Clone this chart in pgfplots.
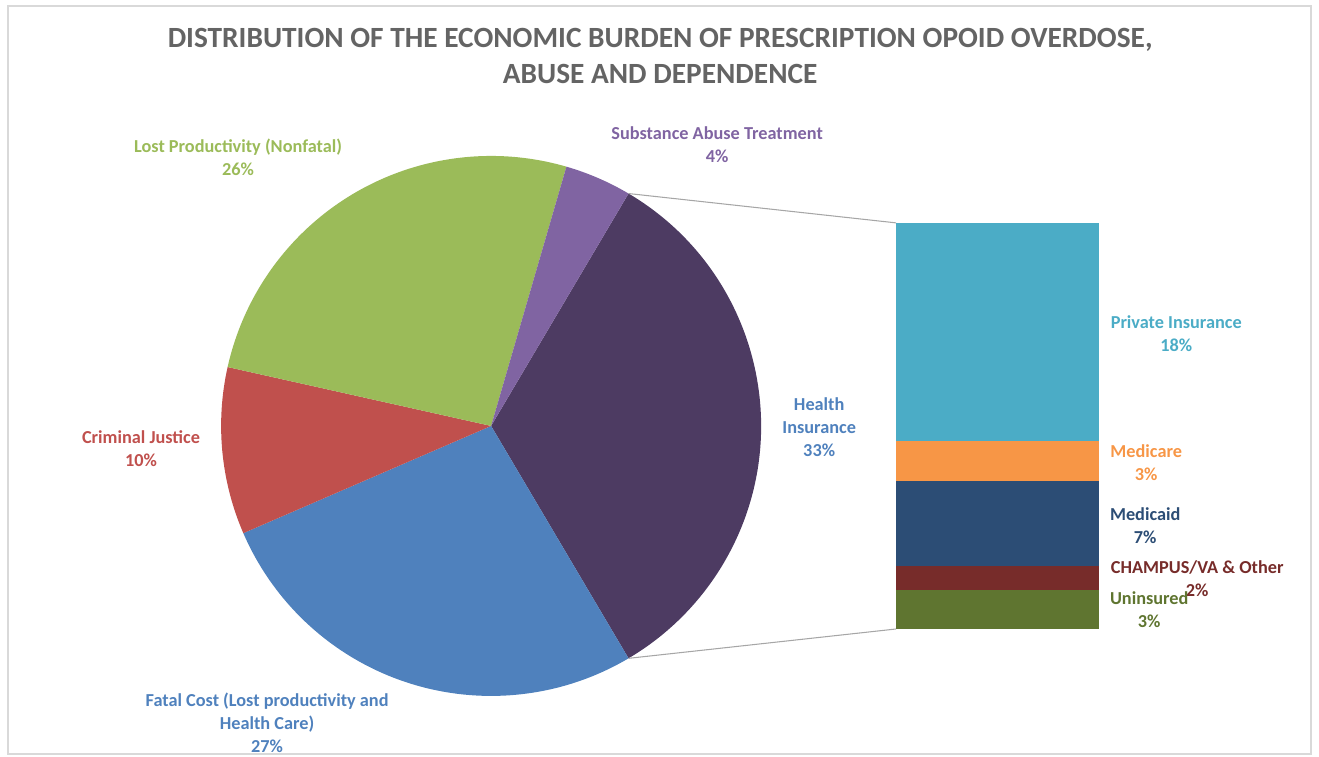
\documentclass[border=0pt]{standalone}
\usepackage{pgfplots}
\usepackage{pgfplotstable}
\usepackage{fontspec}
\setmainfont{Carlito}
\pgfplotsset{compat=1.18}

% pie shares, clockwise starting from the split slice (Health Insurance)
\pgfplotstableread{
value
33
27
10
26
4
}\piedata

% breakdown of Health Insurance (stacked bottom to top)
\pgfplotstableread{
x uninsured champus medicaid medicare private
0 3.2 1.9 6.9 3.3 17.7
}\bardata

\definecolor{slice0}{HTML}{4D3B62}
\definecolor{slice1}{HTML}{4F81BD}
\definecolor{slice2}{HTML}{C0504D}
\definecolor{slice3}{HTML}{9BBB59}
\definecolor{slice4}{HTML}{8064A2}
\definecolor{private}{HTML}{4BACC6}
\definecolor{medicare}{HTML}{F79646}
\definecolor{medicaid}{HTML}{2C4D75}
\definecolor{champus}{HTML}{772C2A}
\definecolor{uninsured}{HTML}{5F7530}
\definecolor{titlegray}{RGB}{100,100,100}
\definecolor{framegray}{HTML}{D9D9D9}

\newcommand{\lbl}{\fontsize{10.4}{13.1}\selectfont\bfseries}

\begin{document}
\begin{tikzpicture}
% slice angles from the table
\pgfplotstablegetelem{0}{value}\of\piedata
\pgfmathsetmacro\startang{\pgfplotsretval*1.8}
\xdef\curang{\startang}
\foreach \i in {0,...,4}{
  \pgfplotstablegetelem{\i}{value}\of\piedata
  \pgfmathsetmacro\endang{\curang-\pgfplotsretval*3.6}
  \expandafter\xdef\csname pieS\i\endcsname{\curang}
  \expandafter\xdef\csname pieE\i\endcsname{\endang}
  \xdef\curang{\endang}
}
\path[use as bounding box] (0,0) rectangle (26.38cm,15.12cm);

\begin{axis}[
  at={(0,0)}, anchor=south west,
  x=0.02cm, y=0.02cm,
  xmin=0, xmax=1319, ymin=0, ymax=756,
  hide axis, clip=false,
]
  \draw[framegray, line width=1pt] (axis cs:8,2) rectangle (axis cs:1311,750);

  \pgfplotsinvokeforeach{0,...,4}{
    \fill[slice#1] (axis cs:491,330) -- ++(\csname pieS#1\endcsname:5.4cm)
      arc[start angle=\csname pieS#1\endcsname, end angle=\csname pieE#1\endcsname, radius=5.4cm] -- cycle;
  }
  \draw[gray!70, line width=0.6pt] (axis cs:491,330) ++(\csname pieS0\endcsname:5.4cm) -- (axis cs:896,533);
  \draw[gray!70, line width=0.6pt] (axis cs:491,330) ++(\csname pieE0\endcsname:5.4cm) -- (axis cs:896,127);

  \node[align=center, text=titlegray, font=\fontsize{16.7}{20.5}\selectfont\bfseries]
    at (axis cs:660,700) {DISTRIBUTION OF THE ECONOMIC BURDEN OF PRESCRIPTION OPOID OVERDOSE,\\ABUSE AND DEPENDENCE};

  \node[align=center, text=slice3, font=\lbl] at (axis cs:238,598.5) {Lost Productivity (Nonfatal)\\26\%};
  \node[align=center, text=slice4, font=\lbl] at (axis cs:717,611.5) {Substance Abuse Treatment\\4\%};
  \node[align=center, text=slice2, font=\lbl] at (axis cs:141,307.5) {Criminal Justice\\10\%};
  \node[align=center, text=slice1, font=\lbl] at (axis cs:819,329) {Health\\Insurance\\33\%};
  \node[align=center, text=slice1, font=\lbl] at (axis cs:267,33.5) {Fatal Cost (Lost productivity and\\Health Care)\\27\%};

  \node[align=center, text=private, font=\lbl] at (axis cs:1176,422.5) {Private Insurance\\18\%};
  \node[align=center, text=medicare, font=\lbl] at (axis cs:1146,293.5) {Medicare\\3\%};
  \node[align=center, text=medicaid, font=\lbl] at (axis cs:1145,230.5) {Medicaid\\7\%};
  \node[align=center, text=champus, font=\lbl] at (axis cs:1197,177.5) {CHAMPUS/VA \& Other\\2\%};
  \node[align=center, text=uninsured, font=\lbl] at (axis cs:1149,146.5) {Uninsured\\3\%};
\end{axis}

\begin{axis}[
  at={(17.92cm,2.54cm)}, anchor=south west,
  scale only axis, width=4.06cm, height=8.12cm,
  xmin=-0.5, xmax=0.5, ymin=0, ymax=33,
  hide axis, clip=false,
  ybar stacked, bar width=4.06cm,
]
  \addplot[fill=uninsured, draw=none] table[x=x, y=uninsured] {\bardata};
  \addplot[fill=champus, draw=none] table[x=x, y=champus] {\bardata};
  \addplot[fill=medicaid, draw=none] table[x=x, y=medicaid] {\bardata};
  \addplot[fill=medicare, draw=none] table[x=x, y=medicare] {\bardata};
  \addplot[fill=private, draw=none] table[x=x, y=private] {\bardata};
\end{axis}
\end{tikzpicture}
\end{document}
